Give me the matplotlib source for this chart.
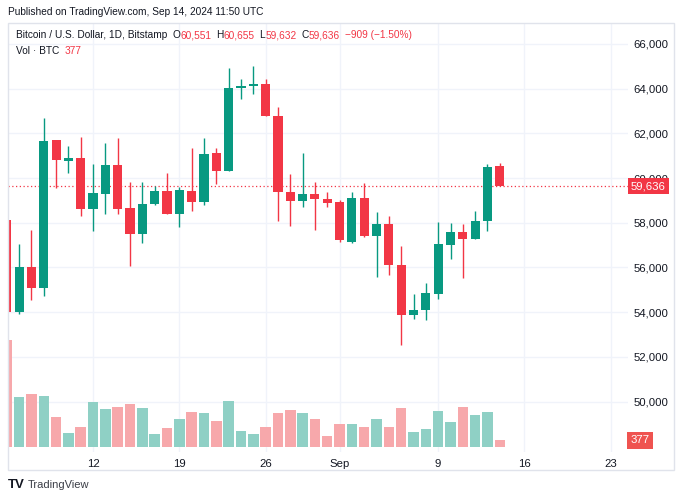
import matplotlib
matplotlib.use("Agg")
import matplotlib.pyplot as plt
from matplotlib.patches import Rectangle

# daily candles, Bitstamp BTC/USD, Aug 5 .. Sep 14 2024 (day 0 = Aug 12)
days = list(range(-7, 34))
opens = [58110, 54000, 56000, 55060, 61700, 60760, 60910, 58630, 59270, 60570,
         58670, 57490, 58820, 59420, 58380, 59420, 58940, 61130, 60310, 64040,
         64120, 64210, 62770, 59360, 58980, 59280, 59080, 58930, 57150, 59090,
         57400, 57930, 56090, 53880, 54090, 54810, 57000, 57600, 57270, 58080, 60551]
highs = [58300, 57030, 57670, 62670, 61720, 61430, 61820, 60610, 61550, 61770,
         59800, 59800, 59640, 60210, 59580, 61360, 61770, 61360, 64910, 64430,
         65030, 64430, 63160, 60170, 61130, 59840, 59390, 59020, 59360, 59760,
         58470, 58300, 56960, 54800, 55290, 58030, 57970, 57930, 58520, 60630, 60655]
lows = [49100, 53900, 54540, 54720, 59570, 60240, 58300, 57640, 58390, 58390,
        56080, 57080, 58780, 58380, 57820, 58520, 58790, 59730, 60310, 63530,
        63760, 62770, 58060, 57850, 58690, 57670, 58720, 57150, 57100, 57360,
        55560, 55650, 52530, 53690, 53650, 54570, 56380, 55540, 57270, 57630, 59632]
closes = [54000, 56000, 55060, 61650, 60800, 60910, 58630, 59310, 60570, 58630,
          57490, 58850, 59420, 58380, 59450, 58940, 61090, 60310, 64010, 64130,
          64210, 62770, 59360, 58980, 59280, 59060, 58900, 57210, 59090, 57400,
          57930, 56090, 53880, 54110, 54840, 57030, 57600, 57270, 58090, 60480, 59636]
volumes = [6400, 2960, 3140, 3040, 1800, 840, 1200, 2680, 2260, 2380,
           2580, 2320, 780, 1140, 1660, 2080, 2020, 1560, 2740, 960,
           780, 1200, 2020, 2220, 2020, 1660, 640, 1340, 1340, 1200,
           1660, 1200, 2320, 900, 1060, 2120, 1500, 2360, 1900, 2080, 377]

tick_days = [0, 7, 14, 20, 28, 35, 42]
tick_labels = ["12", "19", "26", "Sep", "9", "16", "23"]
price_ticks = [50000, 52000, 54000, 56000, 58000, 60000, 62000, 64000, 66000]

UP = "#089981"
DOWN = "#F23645"
UP_VOL = "#8fd0c5"
DOWN_VOL = "#f7a8ab"
TXT = "#131722"
GRID = "#f0f3fa"

W, H = 683, 500
plt.rcParams['font.family'] = ['Liberation Sans', 'DejaVu Sans']
fig = plt.figure(figsize=(W / 100, H / 100), dpi=100)

def frac(x0, y0, x1, y1):
    return [x0 / W, 1 - y1 / H, (x1 - x0) / W, (y1 - y0) / H]

pos = frac(8, 23, 628, 452)
ax = fig.add_axes(pos)
axv = fig.add_axes(pos, sharex=ax)
axv.set_facecolor("none")

# price pane
ax.set_xlim(-6.9, 43.4)
ax.set_ylim(47741, 66935)
ax.set_yticks(price_ticks)
ax.set_yticklabels([f"{p:,}" for p in price_ticks])
ax.yaxis.tick_right()
ax.set_xticks(tick_days)
ax.set_xticklabels(tick_labels)
ax.tick_params(length=0, labelsize=8.2, colors=TXT)
ax.tick_params(axis="y", pad=4)
ax.tick_params(axis="x", pad=5)
ax.grid(True, color=GRID, lw=1)
ax.set_axisbelow(True)
for s in ax.spines.values():
    s.set_visible(False)

colors = [UP if c >= o else DOWN for o, c in zip(opens, closes)]
ax.vlines(days, lows, highs, colors=colors, lw=1, zorder=2)
bottoms = [min(o, c) for o, c in zip(opens, closes)]
heights = [max(abs(c - o), 45) for o, c in zip(opens, closes)]
ax.bar(days, heights, bottom=bottoms, width=0.74, color=colors, zorder=3)

ax.axhline(closes[-1], color=DOWN, lw=0.9, ls=(0, (1, 2)), zorder=1)
ax.text(1.005, closes[-1], f"{closes[-1]:,}", transform=ax.get_yaxis_transform(),
        ha="left", va="center", color="white", fontsize=8.2, zorder=5,
        bbox=dict(boxstyle="square,pad=0.25", fc=DOWN, ec="none"), clip_on=False)

# volume pane
vcolors = [UP_VOL if c >= o else DOWN_VOL for o, c in zip(opens, closes)]
axv.bar(days, volumes, width=0.85, color=vcolors, zorder=2)
axv.set_ylim(-320, 25420)
axv.axis("off")
axv.text(1.004, volumes[-1], str(volumes[-1]), transform=axv.get_yaxis_transform(),
         ha="left", va="center", color="white", fontsize=8.2,
         bbox=dict(boxstyle="square,pad=0.3", fc="#ef5350", ec="none"), clip_on=False)

# outer frame
fig.patches.append(Rectangle((8 / W, 1 - 470 / H), 666 / W, 447 / H,
                             transform=fig.transFigure, fill=False,
                             ec="#e0e3eb", lw=1))

renderer = fig.canvas.get_renderer()

def ftext(x, y, s, **kw):
    t = fig.text(x / W, 1 - y / H, s, va="center", ha="left", **kw)
    return x + t.get_window_extent(renderer).width

# header texts
fs = 7.3
ftext(8, 12, "Published on TradingView.com, Sep 14, 2024 11:50 UTC", fontsize=fs, color=TXT)
x = ftext(16, 35, "Bitcoin / U.S. Dollar, 1D, Bitstamp", fontsize=fs, color=TXT) + 5
ohlc = [("O", "60,551"), ("H", "60,655"), ("L", "59,632"), ("C", "59,636")]
for k, v in ohlc:
    x = ftext(x, 35, k, fontsize=fs, color=TXT)
    x = ftext(x, 35, v, fontsize=fs, color=DOWN) + 5
ftext(x, 35, "\u2212909 (\u22121.50%)", fontsize=fs, color=DOWN)
x = ftext(16, 51, "Vol \u00b7 BTC", fontsize=fs, color=TXT) + 5
ftext(x, 51, "377", fontsize=fs, color=DOWN)

# footer logo
ftext(8, 485, "TV", fontsize=9.5, color=TXT, fontweight="bold")
ftext(28, 485, "TradingView", fontsize=8, color="#3b3e47")

fig.savefig("out.png", dpi=100)
